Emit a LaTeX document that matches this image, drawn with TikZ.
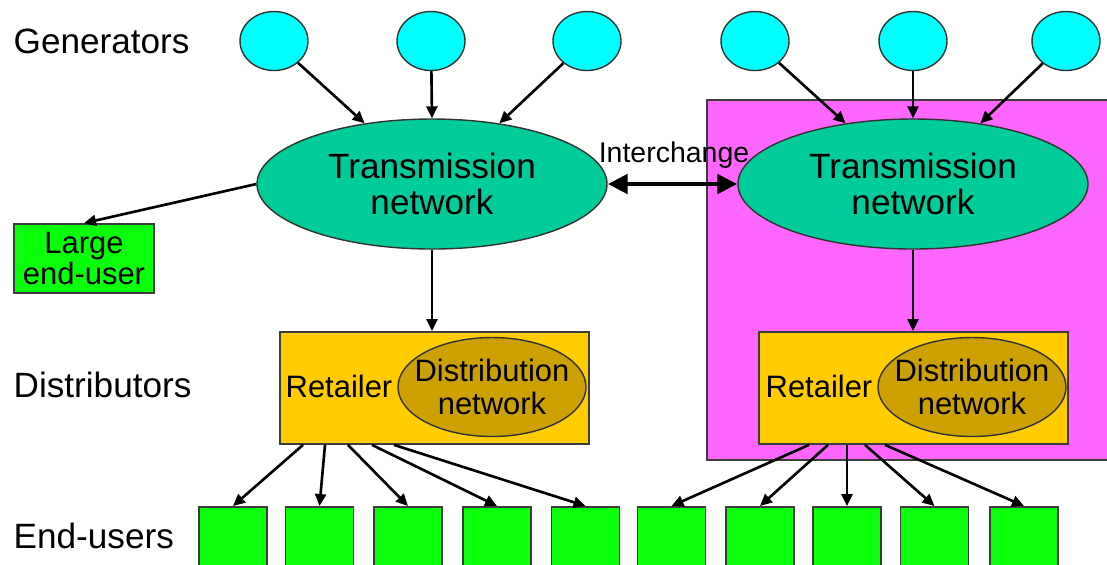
\documentclass[tikz,border=0pt]{standalone}
\usepackage{fontspec}
\setmainfont{Liberation Sans}
\usetikzlibrary{arrows.meta,positioning,shapes.geometric}
\definecolor{genCyan}{RGB}{0,255,255}
\definecolor{transGreen}{RGB}{0,204,153}
\definecolor{areaPink}{RGB}{255,102,255}
\definecolor{retailOrange}{RGB}{255,204,0}
\definecolor{distGold}{RGB}{204,160,0}
\definecolor{userGreen}{RGB}{10,255,10}
\definecolor{edgeGray}{RGB}{60,60,60}

\begin{document}
\begin{tikzpicture}[x=0.1mm, y=-0.1mm,
    gen/.style={ellipse, draw=black!80, fill=genCyan, line width=0.4pt,
                minimum width=6.8mm, minimum height=5.9mm, inner sep=0pt},
    trans/.style={ellipse, draw=black!80, fill=transGreen, line width=0.4pt,
                  minimum width=35mm, minimum height=13mm, inner sep=0pt,
                  align=center, font=\fontsize{10}{10.2}\selectfont},
    retail/.style={rectangle, draw=edgeGray, fill=retailOrange, line width=0.5pt,
                   minimum width=30.9mm, minimum height=11.2mm, inner sep=0pt},
    dist/.style={ellipse, draw=black!80, fill=distGold, line width=0.4pt,
                 minimum width=18.8mm, minimum height=9.9mm,
                 inner xsep=-1.4mm, inner ysep=-1mm,
                 align=center, font=\fontsize{8.8}{9.6}\selectfont},
    enduser/.style={rectangle, draw=edgeGray, fill=userGreen, line width=0.5pt,
                    minimum width=6.8mm, minimum height=6.8mm, inner sep=0pt},
    lbl/.style={inner sep=0pt, anchor=west, font=\fontsize{10}{12}\selectfont},
    small/.style={inner sep=0pt, font=\fontsize{8.8}{9.2}\selectfont},
    arr/.style={-{Triangle[length=1.2mm, width=1.1mm]}, line width=0.75pt}
  ]
  \useasboundingbox (0,0) rectangle (1107,564);

  % second control area
  \draw[edgeGray, line width=0.5pt, fill=areaPink] (707,100) rectangle (1120,460);

  % row labels
  \node[lbl] (lgen)  at (13,41)  {Generators};
  \node[lbl] (ldist) at (13,385) {Distributors};
  \node[lbl] (lusr)  at (13,536) {End-users};

  % generators
  \foreach \x [count=\i] in {274,431,587,755,913,1066}
    \node[gen] (g\i) at (\x,41) {};

  % transmission grids
  \node[trans] (tl) at (432,184) {Transmission\\network};
  \node[trans] (tr) at (913,184) {Transmission\\network};

  \node[rectangle, draw=edgeGray, fill=userGreen, line width=0.5pt,
        minimum width=14mm, minimum height=6.9mm, inner sep=0pt, align=center,
        font=\fontsize{8.8}{9.1}\selectfont] (leu) at (84,258.5) {Large\\end-user};

  % distributors
  \node[retail] (dl) at (434.5,388) {};
  \node[retail] (dr) at (913.5,388) {};
  \node[dist] (nl) at (492,387) {Distribution\\network};
  \node[dist] (nr) at (972,387) {Distribution\\network};
  \node[small, anchor=west] (rl) at (285,386) {Retailer};
  \node[small, anchor=west] (rr) at (765,386) {Retailer};

  % end-users
  \foreach \x [count=\i] in {233,319.5,408,497,585.5,671.5,760,847,934.5,1024}
    \node[enduser, anchor=north] (eu\i) at (\x,506) {};

  % power flows
  \draw[arr] (g1) -- (tl.138);
  \draw[arr] (g2) -- (tl.north);
  \draw[arr] (g3) -- (tl.42);
  \draw[arr] (g4) -- (tr.138);
  \draw[arr] (g5) -- (tr.north);
  \draw[arr] (g6) -- (tr.42);

  \draw[arr] (tl.west) -- (leu.north);
  \draw[arr] (tl.south) -- (tl.south |- dl.north);
  \draw[arr] (tr.south) -- (tr.south |- dr.north);

  \draw[{Triangle[length=2mm, width=1.9mm]}-{Triangle[length=2mm, width=1.9mm]},
        line width=1.4pt] (tl.east) -- (tr.west);
  \node[inner sep=0pt, font=\fontsize{8.1}{9}\selectfont] (ich) at (674,155) {Interchange};

  \foreach \dx [count=\i] in {-131.5,-109.5,-86.5,-62.5,-40.5}
    \draw[arr] ([xshift=\dx*0.1mm]dl.south) -- (eu\i.north);
  \foreach \dx [count=\i from 6] in {-104.5,-85.5,-66.5,-48.5,-28.5}
    \draw[arr] ([xshift=\dx*0.1mm]dr.south) -- (eu\i.north);
\end{tikzpicture}
\end{document}
